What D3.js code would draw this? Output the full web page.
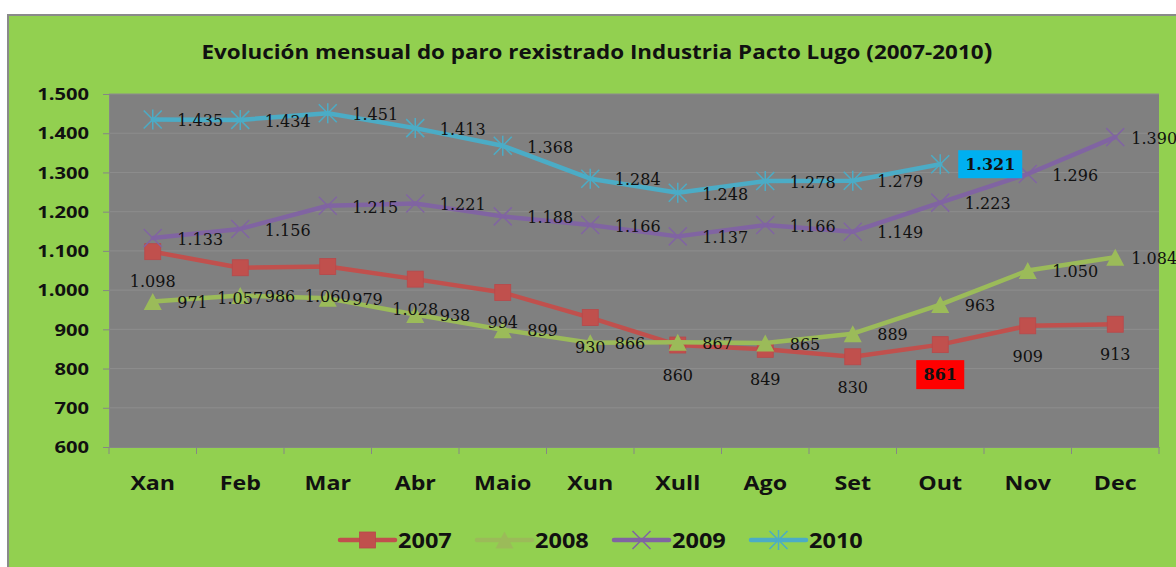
<!DOCTYPE html>
<html><head><meta charset="utf-8">
<script src="https://cdn.jsdelivr.net/npm/d3@7"></script>
<style>html,body{margin:0;padding:0;background:#fff;} svg{display:block}</style>
</head><body><svg id="c" width="1176" height="567"></svg>
<script>
// ---------- data ----------
const months = ["Xan","Feb","Mar","Abr","Maio","Xun","Xull","Ago","Set","Out","Nov","Dec"];
const years = ["2007","2008","2009","2010"];
const v2007 = [1098,1057,1060,1028,994,930,860,849,830,861,909,913];
const v2008 = [971,986,979,938,899,866,867,865,889,963,1050,1084];
const v2009 = [1133,1156,1215,1221,1188,1166,1137,1166,1149,1223,1296,1390];
const v2010 = [1435,1434,1451,1413,1368,1284,1248,1278,1279,1321];
const yTicks = [600,700,800,900,1000,1100,1200,1300,1400,1500];
const titleText = "Evolución mensual do paro rexistrado Industria Pacto Lugo (2007-2010";
const titleClose = ")";

// ---------- setup ----------
const W = 1176, H = 567;
const plot = {l:109, r:1159, t:94, b:447};
const svg = d3.select("#c");
const locale = d3.formatLocale({decimal:",", thousands:".", grouping:[3], currency:["",""]});
const fmt = locale.format(",");
const axisFont = "'Open Sans', 'Liberation Sans', sans-serif";
const labelFont = "'DejaVu Serif', serif";

function stretch(sel, k){
  sel.each(function(){
    const L = this.getComputedTextLength();
    this.setAttribute("textLength", L*k);
    this.setAttribute("lengthAdjust","spacingAndGlyphs");
  });
}

const series = [
  {name:years[0], values:v2007, color:"#C0504D", marker:"square", pos:"below", hi:{i:9, fill:"#FF0000"}},
  {name:years[1], values:v2008, color:"#9BBB59", marker:"triangle", pos:"right"},
  {name:years[2], values:v2009, color:"#8064A2", marker:"x", pos:"right"},
  {name:years[3], values:v2010, color:"#4BACC6", marker:"star", pos:"right", hi:{i:9, fill:"#00B0F0"}}
];

// background
svg.append("rect").attr("x",0).attr("y",0).attr("width",W).attr("height",H).attr("fill","#fff");
svg.append("rect").attr("x",8).attr("y",15).attr("width",W).attr("height",H)
  .attr("fill","#92D050").attr("stroke","#8a8a8a").attr("stroke-width",2);

// title
const tt = svg.append("text").attr("x",597).attr("y",59).attr("text-anchor","middle")
  .attr("font-family",axisFont).attr("font-weight",700).attr("font-size",19.5).attr("fill","#111");
tt.append("tspan").text(titleText);
tt.append("tspan").attr("font-size",23).attr("dy",1).text(titleClose);
tt.attr("textLength",791).attr("lengthAdjust","spacingAndGlyphs");

// scales
const x = d3.scaleBand().domain(months).range([plot.l, plot.r]).padding(0);
const y = d3.scaleLinear().domain([600,1500]).range([plot.b, plot.t]);
const cx = m => x(m) + x.bandwidth()/2;

// plot area
svg.append("rect").attr("x",plot.l).attr("y",plot.t).attr("width",plot.r-plot.l).attr("height",plot.b-plot.t)
  .attr("fill","#808080");
svg.append("g").selectAll("line").data(yTicks.filter(d=>d>600)).join("line")
  .attr("x1",plot.l).attr("x2",plot.r).attr("y1",d=>y(d)).attr("y2",d=>y(d))
  .attr("stroke","#8d8d8d").attr("stroke-width",1);

// y axis
const gy = svg.append("g").attr("transform",`translate(${plot.l},0)`)
  .call(d3.axisLeft(y).tickValues(yTicks).tickSize(6).tickPadding(14).tickFormat(fmt));
gy.select(".domain").attr("stroke","#868686");
gy.selectAll(".tick line").attr("stroke","#868686");
gy.selectAll(".tick text").attr("font-family",axisFont).attr("font-weight",700).attr("font-size",16)
  .attr("fill","#111").attr("dy","0.36em");
stretch(gy.selectAll(".tick text"), 1.26);

// x axis
const gx = svg.append("g").attr("transform",`translate(0,${plot.b})`)
  .call(d3.axisBottom(x).tickSize(0).tickPadding(29));
gx.select(".domain").attr("stroke","#868686");
gx.selectAll(".tick text").attr("font-family",axisFont).attr("font-weight",700).attr("font-size",19.5).attr("fill","#111");
stretch(gx.selectAll(".tick text"), 1.19);
const bounds = months.map(m=>x(m)).concat([plot.r]);
gx.selectAll(".bt").data(bounds).join("line").attr("class","bt")
  .attr("x1",d=>d).attr("x2",d=>d).attr("y1",0).attr("y2",7).attr("stroke","#868686");

// markers
function drawMarker(g, type, color, size){
  const s = size||1;
  if(type==="square"){
    g.append("rect").attr("x",-8*s).attr("y",-8*s).attr("width",16*s).attr("height",16*s)
      .attr("fill",color).attr("stroke","#b9484a").attr("stroke-width",0.8);
  } else if(type==="triangle"){
    g.append("path").attr("d",`M0,${-8.5*s}L${9*s},${8.5*s}L${-9*s},${8.5*s}Z`).attr("fill",color);
  } else if(type==="x"){
    g.append("path").attr("d",`M${-9*s},${-9*s}L${9*s},${9*s}M${-9*s},${9*s}L${9*s},${-9*s}`)
      .attr("stroke",color).attr("stroke-width",1.5).attr("fill","none");
  } else if(type==="star"){
    g.append("path").attr("d",`M${-9*s},${-9*s}L${9*s},${9*s}M${-9*s},${9*s}L${9*s},${-9*s}M0,${-10*s}L0,${10*s}`)
      .attr("stroke",color).attr("stroke-width",1.5).attr("fill","none");
  }
}

const line = d3.line().x((d,i)=>cx(months[i])).y(d=>y(d));
series.forEach(s=>{
  const g = svg.append("g");
  g.append("path").attr("d",line(s.values)).attr("fill","none").attr("stroke",s.color)
    .attr("stroke-width",4.5).attr("stroke-linejoin","round").attr("stroke-linecap","round");
  s.values.forEach((v,i)=>{
    const mg = g.append("g").attr("transform",`translate(${cx(months[i])},${y(v)})`);
    drawMarker(mg, s.marker, s.color);
  });
});

// data labels
const lg = svg.append("g");
series.forEach(s=>{
  s.values.forEach((v,i)=>{
    const px = cx(months[i]), py = y(v);
    const isHi = s.hi && s.hi.i===i;
    if(s.pos==="below"){
      const ly = py + 30;
      if(isHi){
        lg.append("rect").attr("x",px-24).attr("y",ly-14.5).attr("width",48).attr("height",29).attr("fill",s.hi.fill);
      }
      lg.append("text").attr("x",px).attr("y",ly).attr("dy","0.36em").attr("text-anchor","middle")
        .attr("font-family",labelFont).attr("font-size",16).attr("font-weight",isHi?700:400)
        .attr("fill","#111").text(fmt(v));
    } else {
      if(isHi){
        lg.append("rect").attr("x",px+18).attr("y",py-14).attr("width",64).attr("height",28).attr("fill",s.hi.fill);
        lg.append("text").attr("x",px+50).attr("y",py).attr("dy","0.36em").attr("text-anchor","middle")
          .attr("font-family",labelFont).attr("font-size",16).attr("font-weight",700)
          .attr("fill","#111").text(fmt(v));
      } else {
        const dx = i===months.length-1 ? 16 : 24.5;
        lg.append("text").attr("x",px+dx).attr("y",py+1).attr("dy","0.36em")
          .attr("font-family",labelFont).attr("font-size",16)
          .attr("fill","#111").text(fmt(v));
      }
    }
  });
});

// legend
const legY = 540, legX0 = 340, legStep = 137;
series.forEach((s,k)=>{
  const g = svg.append("g").attr("transform",`translate(${legX0 + k*legStep},${legY})`);
  g.append("line").attr("x1",0).attr("x2",55).attr("y1",0).attr("y2",0)
    .attr("stroke",s.color).attr("stroke-width",4.5).attr("stroke-linecap","round");
  const mg = g.append("g").attr("transform","translate(27.5,0)");
  drawMarker(mg, s.marker, s.color);
  const t = g.append("text").attr("x",58).attr("y",0).attr("dy","0.36em")
    .attr("font-family",axisFont).attr("font-weight",700).attr("font-size",21).attr("fill","#111").text(s.name);
  stretch(t, 1.12);
});
</script></body></html>
